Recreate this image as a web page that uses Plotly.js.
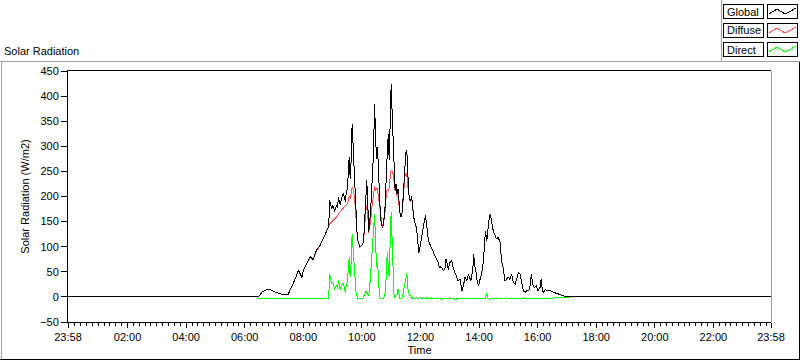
<!DOCTYPE html>
<html>
<head>
<meta charset="utf-8">
<script src="https://cdn.plot.ly/plotly-3.0.1.min.js"></script>
<style>
html,body{margin:0;padding:0;background:#fff;}
#chart{width:800px;height:361px;}
#chart .scatterlayer path.js-line{shape-rendering:crispEdges;}
#chart .layer-above path{shape-rendering:crispEdges;}
</style>
</head>
<body>
<div id="chart"></div>
<script>
// ---- data (time in minutes after midnight) ----
const times = [-2,385,
388,391,397,404,412,419,425,431,439,449,456,463,470,473,477,480,487,494,500,507,514,521,528,
530,532,534,536,538,540,542,544,546,548,550,552,554,556,558,560,562,564,566,568,570,572,574,576,578,580,
582,584,586,588,590,592,594,596,598,600,602,604,606,608,610,612,614,616,618,620,622,624,626,628,630,632,
634,636,638,640,642,644,646,648,650,652,654,656,658,660,662,664,666,668,670,672,674,676,678,680,682,684,
686,688,690,692,694,696,698,700,702,704,706,708,710,712,714,716,718,720,722,724,726,728,730,732,734,736,
738,740,742,744,746,748,750,
752,756,759,761,764,767,770,772,775,777,780,784,787,791,794,797,801,803,805,808,811,815,818,821,823,
827,829,831,834,836,839,842,845,849,851,853,856,858,860,863,866,869,873,876,879,883,886,890,893,897,
900,903,907,910,914,918,921,924,928,931,935,938,942,945,947,950,953,957,961,965,967,970,973,976,979,
986,993,1003,1010,1017,1026,
1030,1438];

const globalRad = [0,0,
0,4,11,14,15,11,9,7,4,5,19,35,53,48,39,52,66,80,74,93,102,117,130,
135,140,192,185,175,182,178,170,176,183,178,199,190,183,196,200,206,198,190,208,215,242,279,235,272,345,
312,258,215,160,130,112,104,99,101,103,106,120,165,220,232,190,130,150,172,215,245,300,385,319,275,299,
240,175,160,145,138,142,160,185,245,300,325,272,370,425,365,300,245,212,225,205,215,185,168,159,165,190,
228,270,288,292,240,206,195,192,200,175,160,150,145,135,120,88,92,105,118,128,140,148,162,150,125,115,
108,104,100,96,90,84,80,
79,70,57,60,58,52,55,76,65,54,68,72,58,48,42,32,35,24,12,22,39,32,45,38,32,
52,85,62,49,32,22,35,45,72,105,132,112,139,152,165,145,132,122,115,119,109,72,55,32,35,
39,35,45,30,25,39,49,45,22,12,9,13,12,25,45,25,19,22,12,19,35,12,9,15,12,
12,9,5,3,1,0,
0,0];

const diffuseRad = [0,0,
0,4,11,14,15,11,9,7,4,5,19,35,52,48,39,52,66,79,74,92,102,116,130,
135,140,146,147,149,152,153,155,157,159,162,165,168,170,173,176,178,180,182,184,186,190,200,196,205,219,
215,205,185,150,128,112,104,99,101,103,106,118,150,170,180,165,128,140,150,175,195,215,220,212,215,215,
200,175,160,145,138,142,158,175,205,215,212,215,240,252,250,245,230,212,220,200,200,180,168,159,165,185,
210,240,245,245,220,200,192,190,200,175,160,150,145,135,120,88,92,105,118,128,140,148,162,150,125,115,
108,104,100,96,90,84,80,
79,70,57,60,58,52,55,76,65,54,68,72,58,48,42,32,35,24,12,22,39,32,45,38,32,
52,85,62,49,32,22,35,45,72,105,132,112,139,152,165,145,132,122,115,119,109,72,55,32,35,
39,35,45,30,25,39,49,45,22,12,9,13,12,25,45,25,19,22,12,19,35,12,9,15,12,
12,9,5,3,1,0,
0,0];

const directRad = [0,0,
-3,-3,-3,-3,-2,-3,-3,-3,-3,-3,-3,-2,-3,-3,-3,-3,-3,-2,-3,-3,-3,-3,-2,
-3,-3,46,38,26,30,25,15,19,24,16,34,22,13,23,24,28,18,8,24,29,52,79,39,67,126,
97,53,30,10,2,-3,-3,-3,-2,-3,-3,2,5,12,10,5,2,19,45,75,105,135,165,112,59,70,
30,2,-4,-4,-3,-3,2,10,45,90,60,40,115,170,110,35,0,-2,5,5,15,5,-3,-3,-3,5,
18,30,43,47,20,6,3,2,-3,-2,-3,-4,-3,-2,-3,-4,-3,-2,-3,-3,-2,-4,-3,-2,-3,-4,
-3,-2,-3,-4,-3,-2,-3,
-3,-2,-4,-3,-5,-3,-2,-4,-3,-3,-2,-4,-3,-5,-4,-3,-2,-3,-4,-3,-2,-3,-4,-3,-3,
-2,-3,-4,-3,-2,-3,-3,-2,-3,-2,-3,8,-2,-4,-5,-3,-4,-3,-3,-2,-3,-4,-3,-3,-2,
-3,-4,-3,-3,-2,-3,-3,-4,-3,-2,-3,-3,-2,-3,-3,-2,-3,-3,-2,-3,-2,-3,-2,-2,-2,
-2,-2,-2,-2,-1,0,
0,0];

const tickVals = [-2,120,240,360,480,600,720,840,960,1080,1200,1320,1438];
const tickText = ['23:58','02:00','04:00','06:00','08:00','10:00','12:00','14:00','16:00','18:00','20:00','22:00','23:58'];
const seriesNames = ['Global','Diffuse','Direct'];
const seriesColors = ['#000000','#ff5050','#00ff00'];

// ---- layout helpers (pixel -> paper) ----
const PL=68, PR=771, PT=71, PB=322;
const fx = x => (x-PL)/(PR-PL);
const fy = y => (PB-y)/(PB-PT);
const FONT = 'Liberation Sans, Arial, sans-serif';

const traces = [
  {x:times, y:directRad, name:seriesNames[2], mode:'lines', line:{color:seriesColors[2], width:1}},
  {x:times, y:diffuseRad, name:seriesNames[1], mode:'lines', line:{color:seriesColors[1], width:1}},
  {x:times, y:globalRad, name:seriesNames[0], mode:'lines', line:{color:seriesColors[0], width:1}}
];

const shapes = [];
const annotations = [];
function hline(x0,x1,y,color){shapes.push({type:'line',xref:'paper',yref:'paper',x0:fx(x0),x1:fx(x1),y0:fy(y),y1:fy(y),line:{color:color,width:1}});}
function vline(x,y0,y1,color){shapes.push({type:'line',xref:'paper',yref:'paper',x0:fx(x),x1:fx(x),y0:fy(y0),y1:fy(y1),line:{color:color,width:1}});}

// panel frame
hline(0,800,61.5,'#a0a0a0');
vline(721.5,0,61.5,'#a0a0a0');
vline(1.5,61.5,359.5,'#a0a0a0');
hline(0,800,359.5,'#000000');
vline(799.5,61.5,359.5,'#000000');
// right border of plot area
vline(771,PT,PB,'#a0a0a0');

// legend boxes
for(let i=0;i<3;i++){
  const oy = 19*i;
  shapes.push({type:'rect',xref:'paper',yref:'paper',x0:fx(723.5),x1:fx(763.5),y0:fy(4.5+oy),y1:fy(18.5+oy),line:{color:'#000',width:1},fillcolor:'#fff'});
  shapes.push({type:'rect',xref:'paper',yref:'paper',x0:fx(767.5),x1:fx(797.5),y0:fy(4.5+oy),y1:fy(18.5+oy),line:{color:'#000',width:1},fillcolor:'#fff'});
  const pts = [[769,14],[777,9],[785,14],[789,12],[796,8]];
  const path = pts.map((p,k)=>(k?'L':'M')+fx(p[0]).toFixed(5)+','+fy(p[1]+oy).toFixed(5)).join(' ');
  shapes.push({type:'path',xref:'paper',yref:'paper',path:path,line:{color:seriesColors[i],width:1}});
  annotations.push({xref:'paper',yref:'paper',x:fx(725),y:fy(11.5+oy),xanchor:'left',yanchor:'middle',text:seriesNames[i],showarrow:false,font:{family:FONT,size:11,color:'#000'}});
}

const layout = {
  width:800, height:361,
  margin:{l:PL, r:800-PR, t:PT, b:361-PB, pad:0, autoexpand:false},
  paper_bgcolor:'#fff', plot_bgcolor:'#fff',
  showlegend:false,
  hovermode:false,
  font:{family:FONT, size:11, color:'#000'},
  title:{text:'Solar Radiation', xref:'container', yref:'container', x:4/800, xanchor:'left', y:1-51/361, yanchor:'middle', font:{family:FONT,size:11,color:'#000'}},
  xaxis:{
    range:[-2,1438], tickmode:'array', tickvals:tickVals, ticktext:tickText,
    ticks:'outside', ticklen:5, tickwidth:1, tickcolor:'#000',
    showline:true, linecolor:'#000', linewidth:1, mirror:true,
    showgrid:false, zeroline:false,
    tickfont:{family:FONT,size:11,color:'#000'},
    minor:{tickmode:'linear', tick0:0, dtick:12, ticks:'outside', ticklen:3, tickcolor:'#000', showgrid:false},
    title:{text:'Time', standoff:4, font:{family:FONT,size:11,color:'#000'}}
  },
  yaxis:{
    range:[-50,450], tickmode:'linear', tick0:0, dtick:50,
    ticks:'outside', ticklen:6, tickwidth:1, tickcolor:'#000',
    showline:true, linecolor:'#000', linewidth:1,
    showgrid:false, zeroline:false,
    tickfont:{family:FONT,size:11,color:'#000'},
    title:{text:'Solar Radiation (W/m2)', standoff:8, font:{family:FONT,size:11,color:'#000'}}
  },
  shapes:shapes,
  annotations:annotations
};

Plotly.newPlot('chart', traces, layout, {displayModeBar:false, staticPlot:true});
</script>
</body>
</html>
